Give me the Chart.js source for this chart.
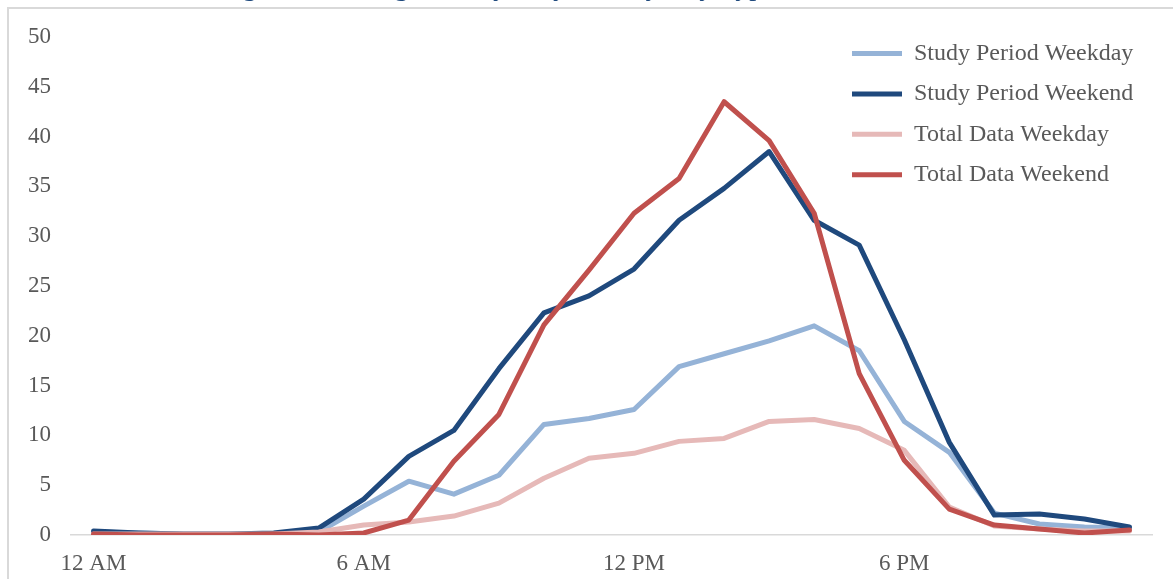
<!DOCTYPE html>
<html>
<head>
<meta charset="utf-8">
<title>Average Hourly Bicyclists</title>
<script src="https://cdn.jsdelivr.net/npm/chart.js@4.4.1/dist/chart.umd.min.js"></script>
<style>
  html, body { margin: 0; padding: 0; background: #fff; overflow: hidden; }
  body { width: 1173px; height: 579px; position: relative; }
  #frame { position: absolute; left: 7px; top: 7px; width: 1200px; height: 620px;
           border-left: 2px solid #D9D9D9; border-top: 2px solid #D9D9D9; }
  #wrap { position: absolute; left: 0; top: -40px; width: 1173px; height: 636px; }
</style>
</head>
<body>
<div id="frame"></div>
<div id="wrap"><canvas id="chart"></canvas></div>
<script>
var hours = ['12 AM', '1 AM', '2 AM', '3 AM', '4 AM', '5 AM', '6 AM', '7 AM', '8 AM', '9 AM', '10 AM', '11 AM',
             '12 PM', '1 PM', '2 PM', '3 PM', '4 PM', '5 PM', '6 PM', '7 PM', '8 PM', '9 PM', '10 PM', '11 PM'];

var studyWeekday = [0.3, 0.2, 0.1, 0.1, 0.1, 0.3, 2.9, 5.4, 4.1, 6.0, 11.1, 11.7,
                    12.6, 16.9, 18.2, 19.5, 21.0, 18.5, 11.4, 8.3, 2.2, 1.1, 0.8, 0.7];
var studyWeekend = [0.4, 0.2, 0.1, 0.1, 0.2, 0.7, 3.6, 7.9, 10.5, 16.7, 22.3, 24.0,
                    26.7, 31.6, 34.8, 38.5, 31.6, 29.1, 19.6, 9.3, 2.0, 2.1, 1.6, 0.8];
var totalWeekday = [0.1, 0.1, 0.1, 0.1, 0.1, 0.3, 1.0, 1.3, 1.9, 3.2, 5.7, 7.7,
                    8.2, 9.4, 9.7, 11.4, 11.6, 10.7, 8.5, 2.8, 0.9, 0.6, 0.4, 0.4];
var totalWeekend = [0.1, 0.0, 0.0, 0.0, 0.1, 0.0, 0.2, 1.5, 7.4, 12.1, 21.1, 26.6,
                    32.3, 35.8, 43.5, 39.6, 32.3, 16.2, 7.5, 2.6, 1.0, 0.6, 0.2, 0.5];

var serif = "'Liberation Serif', 'Times New Roman', serif";
var grey = '#595959';

function line(label, data, color, order) {
  return {
    label: label,
    data: data,
    borderColor: color,
    backgroundColor: color,
    borderWidth: 5,
    borderCapStyle: 'round',
    borderJoinStyle: 'round',
    pointRadius: 0,
    pointHoverRadius: 0,
    tension: 0,
    fill: false,
    order: order
  };
}

// legend sits inside the plot at the top right, title is nudged right of centre
var placeBoxes = {
  id: 'placeBoxes',
  afterLayout: function (chart) {
    var legend = chart.legend;
    var pad = legend.options.labels.padding;
    legend.left = 852 - pad;
    legend.right = legend.left + legend.width;
    legend.top = 81.5 - pad;

    var t = chart.titleBlock;
    t.left += 43;
    t.right += 43;
  }
};

new Chart(document.getElementById('chart'), {
  type: 'line',
  data: {
    labels: hours,
    datasets: [
      line('Study Period Weekday', studyWeekday, '#95B3D7', 4),
      line('Study Period Weekend', studyWeekend, '#1F497D', 3),
      line('Total Data Weekday', totalWeekday, '#E6B9B8', 2),
      line('Total Data Weekend', totalWeekend, '#C0504D', 1)
    ]
  },
  options: {
    responsive: true,
    maintainAspectRatio: false,
    animation: false,
    events: [],
    layout: { padding: { left: 8, right: 21, top: 0, bottom: 3.4 } },
    scales: {
      x: {
        offset: true,
        grid: { display: false, drawTicks: false },
        border: { display: true, color: '#D9D9D9', width: 1.5 },
        ticks: {
          autoSkip: false,
          maxRotation: 0,
          padding: 15,
          color: grey,
          font: { family: serif, size: 23 },
          callback: function (value, index) {
            return index % 6 === 0 ? this.getLabelForValue(value) : '';
          }
        }
      },
      y: {
        min: 0,
        max: 50,
        grid: { display: false, drawTicks: false },
        border: { display: false },
        ticks: {
          stepSize: 5,
          padding: 20,
          color: grey,
          font: { family: serif, size: 23 }
        }
      }
    },
    plugins: {
      title: {
        display: true,
        text: 'Figure 6: Average Hourly Bicyclists by Day Type and Collection Period',
        color: '#1F497D',
        font: { family: serif, size: 28, weight: 'normal' },
        padding: { top: 10.6, bottom: 32.8 }
      },
      legend: {
        position: 'chartArea',
        align: 'start',
        labels: {
          usePointStyle: true,
          pointStyle: 'line',
          pointStyleWidth: 50,
          padding: 16.4,
          color: grey,
          font: { family: serif, size: 24 },
          sort: function (a, b) { return a.datasetIndex - b.datasetIndex; }
        }
      },
      tooltip: { enabled: false }
    }
  },
  plugins: [placeBoxes]
});
</script>
</body>
</html>
